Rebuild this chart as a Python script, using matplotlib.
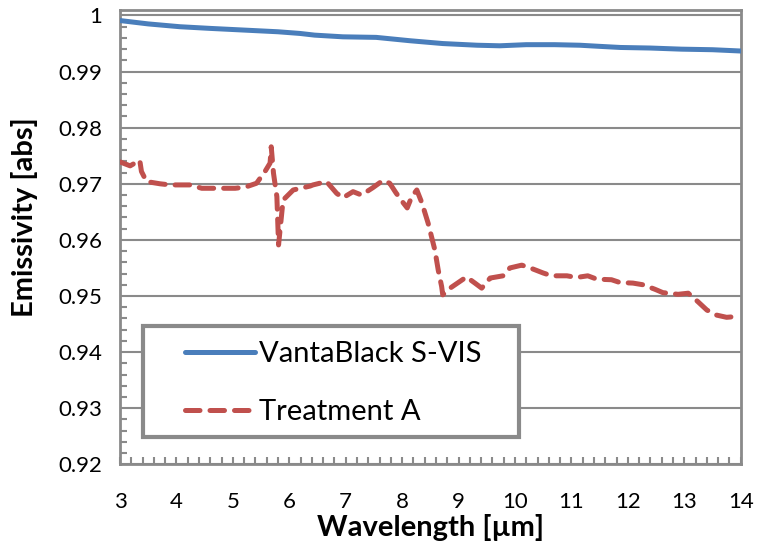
import matplotlib
matplotlib.use("Agg")
import matplotlib.pyplot as plt
from matplotlib.patches import Rectangle
from matplotlib.ticker import MultipleLocator

plt.rcParams['font.family'] = ['Lato', 'DejaVu Sans']

# VantaBlack S-VIS emissivity
vb_wl = [3.0, 3.5, 4.06, 4.6, 5.2, 5.8, 6.19, 6.45, 6.95, 7.54, 8.14, 8.72,
         9.33, 9.73, 10.2, 10.7, 11.15, 11.5, 11.87, 12.4, 12.95, 13.5, 14.0]
vb_em = [0.9991, 0.9985, 0.9980, 0.9977, 0.9974, 0.9971, 0.9968, 0.9965,
         0.9962, 0.9961, 0.9955, 0.9950, 0.9947, 0.9946, 0.9948, 0.9948,
         0.9947, 0.9945, 0.9943, 0.9942, 0.9940, 0.9939, 0.99367]

# Treatment A emissivity
ta_wl = [3.00, 3.18, 3.35, 3.38, 3.47, 3.71, 3.89, 4.24, 4.45, 5.04, 5.22,
         5.42, 5.57, 5.66, 5.68, 5.72, 5.78, 5.81, 5.89, 6.07, 6.37, 6.42,
         6.66, 6.84, 6.95, 7.13, 7.28, 7.48, 7.66, 7.78, 7.89, 8.02, 8.09,
         8.17, 8.26, 8.35, 8.46, 8.52, 8.58, 8.64, 8.70, 8.72, 8.85, 9.14,
         9.29, 9.41, 9.56, 9.79, 9.91, 10.12, 10.27, 10.50, 10.65, 10.92,
         11.09, 11.29, 11.45, 11.71, 11.86, 12.09, 12.27, 12.48, 12.62,
         12.89, 13.07, 13.24, 13.40, 13.57, 13.75, 14.00]
ta_em = [0.9739, 0.9732, 0.9742, 0.9722, 0.9704, 0.9700, 0.9698, 0.9698,
         0.9692, 0.9692, 0.9694, 0.9701, 0.9722, 0.9737, 0.9766, 0.9719,
         0.9677, 0.9591, 0.9671, 0.9689, 0.9696, 0.9698, 0.9704, 0.9683,
         0.9675, 0.9686, 0.9680, 0.9693, 0.9706, 0.9701, 0.9684, 0.9666,
         0.9657, 0.9677, 0.9689, 0.9666, 0.9630, 0.9606, 0.9582, 0.9546,
         0.9517, 0.9502, 0.9514, 0.9534, 0.9523, 0.9514, 0.9532, 0.9536,
         0.9550, 0.9555, 0.9550, 0.9541, 0.9536, 0.9536, 0.9533, 0.9536,
         0.9530, 0.9529, 0.9524, 0.9523, 0.9520, 0.9512, 0.9506, 0.9503,
         0.9505, 0.9490, 0.9475, 0.9466, 0.9462, 0.9464]

y_ticks = [0.92, 0.93, 0.94, 0.95, 0.96, 0.97, 0.98, 0.99, 1.0]
y_labels = ["0.92", "0.93", "0.94", "0.95", "0.96", "0.97", "0.98", "0.99", "1"]
x_ticks = list(range(3, 15))

fig = plt.figure(figsize=(7.57, 5.43), dpi=100)
ax = fig.add_axes([120 / 757, 1 - 464.3 / 543, 620.7 / 757, 454.3 / 543])

gray = "#8a8a8a"
ax.plot(vb_wl, vb_em, color="#4a7ebb", lw=3.6, solid_capstyle="round",
        label="VantaBlack S-VIS", zorder=3)
ax.plot(ta_wl, ta_em, color="#c0504d", lw=3.6, dashes=(2.9, 2.0),
        dash_capstyle="round", label="Treatment A", zorder=3)

ax.set_xlim(3, 14)
ax.set_ylim(0.92, 1.00098)
ax.set_yticks(y_ticks)
ax.set_yticklabels(y_labels)
ax.set_xticks(x_ticks)
ax.yaxis.set_minor_locator(MultipleLocator(0.002))
ax.xaxis.set_minor_locator(MultipleLocator(0.2))
ax.tick_params(which="both", direction="in", color=gray, width=1.5,
               length=5, labelsize=16)
ax.tick_params(axis="y", which="major", pad=13, length=0)
ax.tick_params(axis="x", which="major", pad=20)
ax.grid(axis="y", which="major", color=gray, lw=1.5)
ax.set_axisbelow(True)
for s in ax.spines.values():
    s.set_color(gray)
    s.set_linewidth(2)

ax.set_xlabel("Wavelength [µm]", fontsize=21, fontweight="bold")
ax.set_ylabel("Emissivity [abs]", fontsize=21, fontweight="bold")
ax.xaxis.set_label_coords(0.5, -0.11)
ax.yaxis.set_label_coords(-0.132, 0.544)

# legend box drawn separately so its size matches the original
box = Rectangle((143 / 757, 1 - 437 / 543), 376 / 757, 111 / 543,
                transform=fig.transFigure, facecolor="white",
                edgecolor=gray, lw=3, zorder=4, clip_on=False)
ax.add_patch(box)
leg = ax.legend(loc="upper left", bbox_to_anchor=(185 / 757, 1 - 341 / 543),
                bbox_transform=fig.transFigure, fontsize=21, frameon=False,
                handlelength=2.4, borderpad=0, labelspacing=1.09,
                borderaxespad=0, handletextpad=0.15)
leg.set_zorder(5)

fig.savefig("out.png", dpi=100)
